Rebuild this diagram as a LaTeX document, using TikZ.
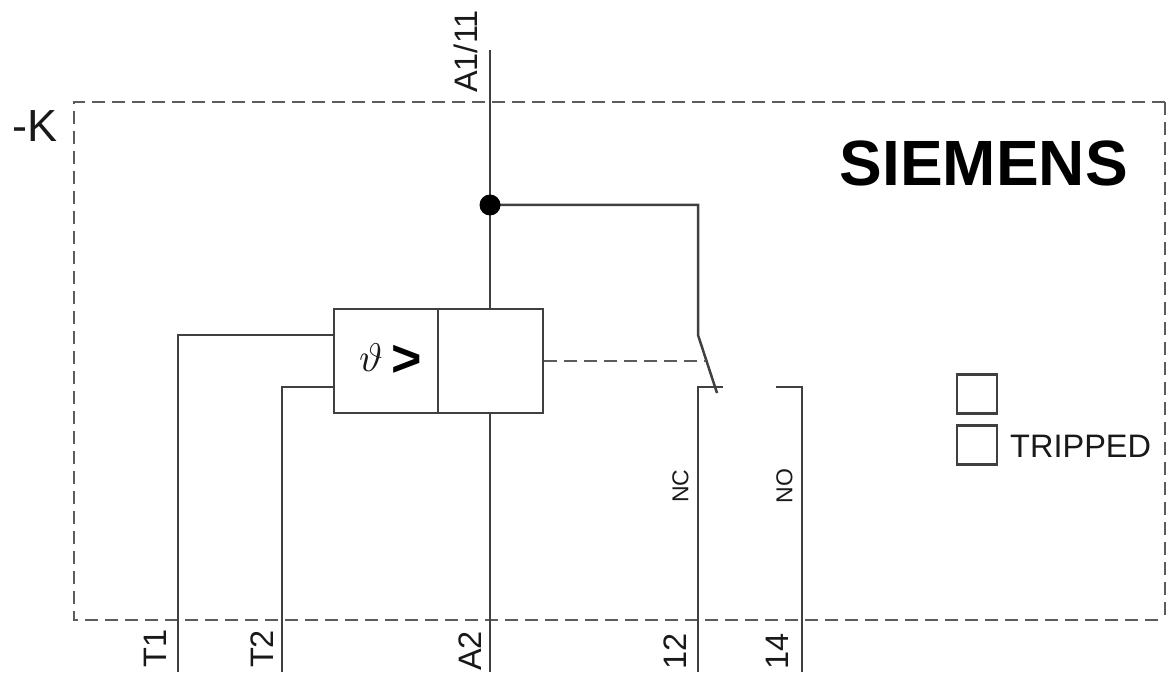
\documentclass[tikz,border=0pt]{standalone}
\usepackage{fontspec}
\setmainfont{Liberation Sans}
\definecolor{wire}{gray}{0.25}
\definecolor{ink}{gray}{0.1}
\tikzset{
  wireline/.style={draw=wire,line width=2.5pt},
  dashline/.style={draw=wire!85!white,line width=2.8pt,dash pattern=on 13pt off 7pt},
  box/.style={draw=wire,line width=2.6pt,fill=white,inner sep=0pt,minimum height=104pt},
  term/.style={rotate=90,text=ink,font=\fontsize{32.5}{32.5}\selectfont,inner sep=0pt},
  small/.style={rotate=90,text=ink,font=\fontsize{23}{23}\selectfont,inner sep=0pt},
  lamp/.style={draw=wire,line width=2.2pt,minimum width=40pt,minimum height=39pt,inner sep=0pt},
}
\begin{document}
\begin{tikzpicture}[x=1pt,y=-1pt]
\useasboundingbox (0,0) rectangle (1166,676);
% enclosure
\draw[dashline] (1165,102) -- (74,102) -- (74,620) -- (1165,620);
\draw[dashline] (1165,102) -- (1165,620);
% coordinates
\coordinate (a1top) at (490,50);
\coordinate (a2bot) at (490,672);
\coordinate (t1bot) at (178,672);
\coordinate (t2bot) at (282,672);
\coordinate (nc) at (698,672);
\coordinate (no) at (802,672);
\coordinate (tj1) at (178,335);
\coordinate (tj2) at (282,387);
\coordinate (nct) at (698,387);
\coordinate (nce) at (723,387);
\coordinate (not) at (802,387);
\coordinate (noe) at (776,387);
\coordinate (cc) at (698,205);
\coordinate (hinge) at (698,335);
\coordinate (blade) at (717,393);
\coordinate (bladem) at (706,361);
\coordinate (jn) at (490,205);
% relay boxes
\node[box,minimum width=104pt] (rl) at (386,361) {};
\node[box,minimum width=105pt] (rr) at (490.5,361) {};
\node[inner sep=0pt,text=ink,scale=4] (theta) at (371,358) {\fontsize{10}{10}\selectfont$\vartheta$};
\node[inner sep=0pt,text=black,font=\bfseries\fontsize{52}{52}\selectfont] (gt) at (407,361) {>};
% wires
\draw[wireline] (a1top) -- (rr.north -| a1top);
\draw[wireline] (rr.south -| a2bot) -- (a2bot);
\draw[wireline] (jn) -- (cc) -- (hinge) -- (blade);
\draw[wireline] (rl.west |- tj1) -- (tj1) -- (t1bot);
\draw[wireline] (rl.west |- tj2) -- (tj2) -- (t2bot);
\draw[wireline] (nce) -- (nct) -- (nc);
\draw[wireline] (noe) -- (not) -- (no);
\draw[dashline] (rr.east) -- (bladem);
% junction
\fill[black] (jn) circle (10.5pt);
% texts
\node[term] (tA1) at (466,51.5) {A1/11};
\node[term] (tT1) at (155.5,648.5) {T1};
\node[term] (tT2) at (262.5,649) {T2};
\node[term] (tA2) at (470,651) {A2};
\node[term] (t12) at (675.5,651) {12};
\node[term] (t14) at (777.5,651) {14};
\node[small] (tNC) at (680.5,486) {NC};
\node[small] (tNO) at (784.5,486) {NO};
\node[anchor=west,inner sep=0pt,text=ink,font=\fontsize{45}{45}\selectfont] (k) at (12,126) {-K};
\node[anchor=east,inner sep=0pt,text=black,font=\bfseries\fontsize{64}{64}\selectfont] (sm) at (1128,163) {SIEMENS};
\node[lamp] (l1) at (977,394) {};
\node[lamp] (l2) at (977,445) {};
\node[anchor=west,inner sep=0pt,text=ink,font=\fontsize{32.5}{32.5}\selectfont] (tr) at (1010,446) {TRIPPED};
\end{tikzpicture}
\end{document}
